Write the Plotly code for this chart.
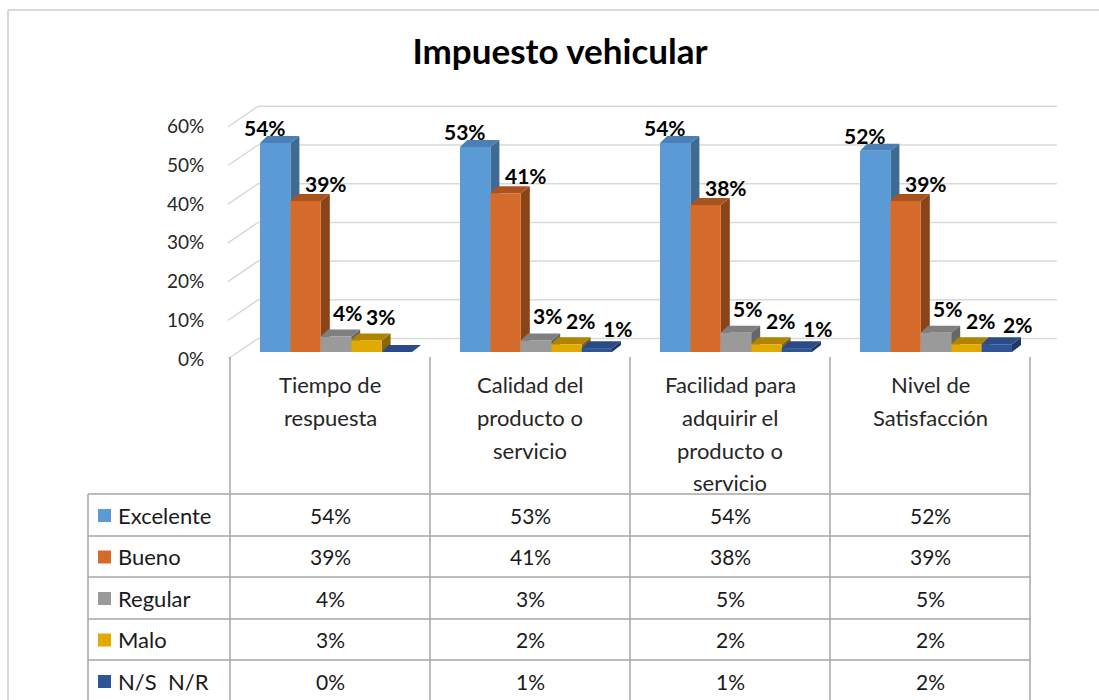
import plotly.graph_objects as go

# ---------------- data ----------------
title_text = "Impuesto vehicular"
categories = ["Tiempo de<br>respuesta",
              "Calidad del<br>producto o<br>servicio",
              "Facilidad para<br>adquirir el<br>producto o<br>servicio",
              "Nivel de<br>Satisfacción"]
series_names = ["Excelente", "Bueno", "Regular", "Malo", "N/S  N/R"]
excelente = [0.54, 0.53, 0.54, 0.52]
bueno = [0.39, 0.41, 0.38, 0.39]
regular = [0.04, 0.03, 0.05, 0.05]
malo = [0.03, 0.02, 0.02, 0.02]
ns_nr = [0.00, 0.01, 0.01, 0.02]
y_ticks = [0.0, 0.1, 0.2, 0.3, 0.4, 0.5, 0.6]
y_tick_labels = ["0%", "10%", "20%", "30%", "40%", "50%", "60%"]

series_values = [excelente, bueno, regular, malo, ns_nr]

# ---------------- styles ----------------
front_colors = ["#5B9BD5", "#D46B2B", "#9A9A9A", "#E2A900", "#2F5597"]
top_colors = ["#4A80B6", "#A9541F", "#7F7F7F", "#B08300", "#2A4B87"]
side_colors = ["#3E6A94", "#8A4418", "#666666", "#8A6700", "#1F3864"]
label_xshift = [-10, 20, 11, 14, 21]
label_yshift = [1, 3, 10, 9, 5]

FONT = "Lato, 'Open Sans', sans-serif"
W, H = 1099, 700

def px_x(p):
    return p / W

def px_y(p):
    return 1 - p / H

# plot area geometry (pixels)
X_DOM = (220, 1060)
X_RANGE = (-0.58, 3.62)
Y_DOM = (95, 365)
Y_BASE_PX = 352
PX_PER_UNIT_Y = 387.0
Y_RANGE = (-(Y_DOM[1] - Y_BASE_PX) / PX_PER_UNIT_Y,
           -(Y_DOM[1] - Y_BASE_PX) / PX_PER_UNIT_Y + (Y_DOM[1] - Y_DOM[0]) / PX_PER_UNIT_Y)
DX = (X_RANGE[1] - X_RANGE[0]) / (X_DOM[1] - X_DOM[0])   # data per pixel (x)
DY = 1.0 / PX_PER_UNIT_Y                                 # data per pixel (y)

def xd(p):
    return X_RANGE[0] + (p - X_DOM[0]) * DX

BAR_W = 0.152
GROUP_HALF = 0.38
DEPTH_X = 9 * DX
DEPTH_Y = 7 * DY

fig = go.Figure()
shapes = []
annotations = []

# ---------------- 3D walls / gridlines ----------------
grid_col = "#D9D9D9"
for t in y_ticks:
    y_front = t - 7 * DY
    y_back = t + 13.5 * DY
    shapes.append(dict(type="line", xref="x", yref="y", layer="below",
                       x0=xd(228), y0=y_front, x1=xd(258), y1=y_back,
                       line=dict(color=grid_col, width=1.5)))
    shapes.append(dict(type="line", xref="x", yref="y", layer="below",
                       x0=xd(258), y0=y_back, x1=xd(1057), y1=y_back,
                       line=dict(color=grid_col, width=1.5)))

# ---------------- bars ----------------
x_pos = list(range(len(categories)))
for j, (name, vals) in enumerate(zip(series_names, series_values)):
    off = -GROUP_HALF + j * BAR_W
    fig.add_trace(go.Bar(
        x=x_pos, y=vals, width=BAR_W, offset=off, name=name,
        marker=dict(color=front_colors[j], line=dict(width=0)),
        showlegend=False, hovertemplate=name + ": %{y:.0%}<extra></extra>"))

# side and top faces (pseudo 3D), drawn in bar order
for i in x_pos:
    for j, vals in enumerate(series_values):
        v = vals[i]
        l = i - GROUP_HALF + j * BAR_W
        r = l + BAR_W
        side = (f"M {r},{0} L {r},{v} L {r + DEPTH_X},{v + DEPTH_Y} "
                f"L {r + DEPTH_X},{DEPTH_Y} Z")
        top = (f"M {l},{v} L {r},{v} L {r + DEPTH_X},{v + DEPTH_Y} "
               f"L {l + DEPTH_X * 0.8},{v + DEPTH_Y} Z")
        shapes.append(dict(type="path", xref="x", yref="y", layer="below",
                           path=side, fillcolor=side_colors[j],
                           line=dict(width=0)))
        shapes.append(dict(type="path", xref="x", yref="y", layer="below",
                           path=top, fillcolor=top_colors[j],
                           line=dict(width=0)))
        if v > 0:
            annotations.append(dict(
                x=(l + r) / 2, y=v, xref="x", yref="y",
                text=f"<b>{v * 100:.0f}%</b>", showarrow=False,
                xanchor="center", yanchor="bottom",
                xshift=label_xshift[j], yshift=label_yshift[j],
                font=dict(family=FONT, size=21, color="#000000")))

# ---------------- y tick labels ----------------
for t, lab in zip(y_ticks, y_tick_labels):
    annotations.append(dict(x=px_x(206), y=t, xref="paper", yref="y",
                            text=lab, showarrow=False, xanchor="right",
                            yanchor="middle", yshift=-6,
                            font=dict(family=FONT, size=19, color="#262626")))

# ---------------- data table ----------------
tab_col = "#A6A6A6"
col_edges = [88, 230, 430, 630, 830, 1030]
row_edges = [494, 536, 577, 619, 660, 702]
header_top = 357

def hline(y, x0, x1):
    shapes.append(dict(type="line", xref="paper", yref="paper",
                       x0=px_x(x0), x1=px_x(x1), y0=px_y(y), y1=px_y(y),
                       line=dict(color=tab_col, width=1.5)))

def vline(x, y0, y1):
    shapes.append(dict(type="line", xref="paper", yref="paper",
                       x0=px_x(x), x1=px_x(x), y0=px_y(y0), y1=px_y(y1),
                       line=dict(color=tab_col, width=1.5)))

for y in row_edges:
    hline(y, col_edges[0], col_edges[-1])
vline(col_edges[0], row_edges[0], H)
for x in col_edges[1:]:
    vline(x, header_top, H)

# category headers
line_gap = 33
for i, cat in enumerate(categories):
    cx = (col_edges[i + 1] + col_edges[i + 2]) / 2
    for k, part in enumerate(cat.split("<br>")):
        annotations.append(dict(x=px_x(cx), y=px_y(384 + k * line_gap),
                                xref="paper", yref="paper", text=part,
                                showarrow=False, xanchor="center",
                                yanchor="middle",
                                font=dict(family=FONT, size=22, color="#262626")))

# rows: legend key + values
for j, (name, vals) in enumerate(zip(series_names, series_values)):
    cy = (row_edges[j] + row_edges[j + 1]) / 2
    shapes.append(dict(type="rect", xref="paper", yref="paper",
                       x0=px_x(98), x1=px_x(111), y0=px_y(cy + 7), y1=px_y(cy - 6),
                       fillcolor=front_colors[j], line=dict(width=0)))
    annotations.append(dict(x=px_x(116), y=px_y(cy), xref="paper", yref="paper",
                            text=name, showarrow=False, xanchor="left",
                            yanchor="middle",
                            font=dict(family=FONT, size=22, color="#1A1A1A")))
    for i, v in enumerate(vals):
        cx = (col_edges[i + 1] + col_edges[i + 2]) / 2
        annotations.append(dict(x=px_x(cx), y=px_y(cy), xref="paper", yref="paper",
                                text=f"{v * 100:.0f}%", showarrow=False,
                                xanchor="center", yanchor="middle",
                                font=dict(family=FONT, size=21, color="#1A1A1A")))

# ---------------- outer frame ----------------
frame_col = "#D9D9D9"
shapes.append(dict(type="line", xref="paper", yref="paper",
                   x0=px_x(8), x1=1, y0=px_y(10), y1=px_y(10),
                   line=dict(color=frame_col, width=2)))
shapes.append(dict(type="line", xref="paper", yref="paper",
                   x0=px_x(8), x1=px_x(8), y0=px_y(10), y1=0,
                   line=dict(color=frame_col, width=2)))

fig.update_layout(
    width=W, height=H, autosize=False,
    margin=dict(l=0, r=0, t=0, b=0),
    paper_bgcolor="white", plot_bgcolor="rgba(0,0,0,0)",
    barmode="overlay",
    title=dict(text=f"<b>{title_text}</b>", x=px_x(560), y=px_y(52),
               xanchor="center", yanchor="middle",
               font=dict(family=FONT, size=35, color="#000000")),
    xaxis=dict(domain=[px_x(X_DOM[0]), px_x(X_DOM[1])], range=list(X_RANGE),
               visible=False, fixedrange=True),
    yaxis=dict(domain=[px_y(Y_DOM[1]), px_y(Y_DOM[0])], range=list(Y_RANGE),
               visible=False, fixedrange=True),
    shapes=shapes, annotations=annotations,
)

fig.write_html("out.html",
               config={"displayModeBar": False},
               post_script="document.body.style.margin='0px';"
                           "document.body.style.overflow='hidden';")
